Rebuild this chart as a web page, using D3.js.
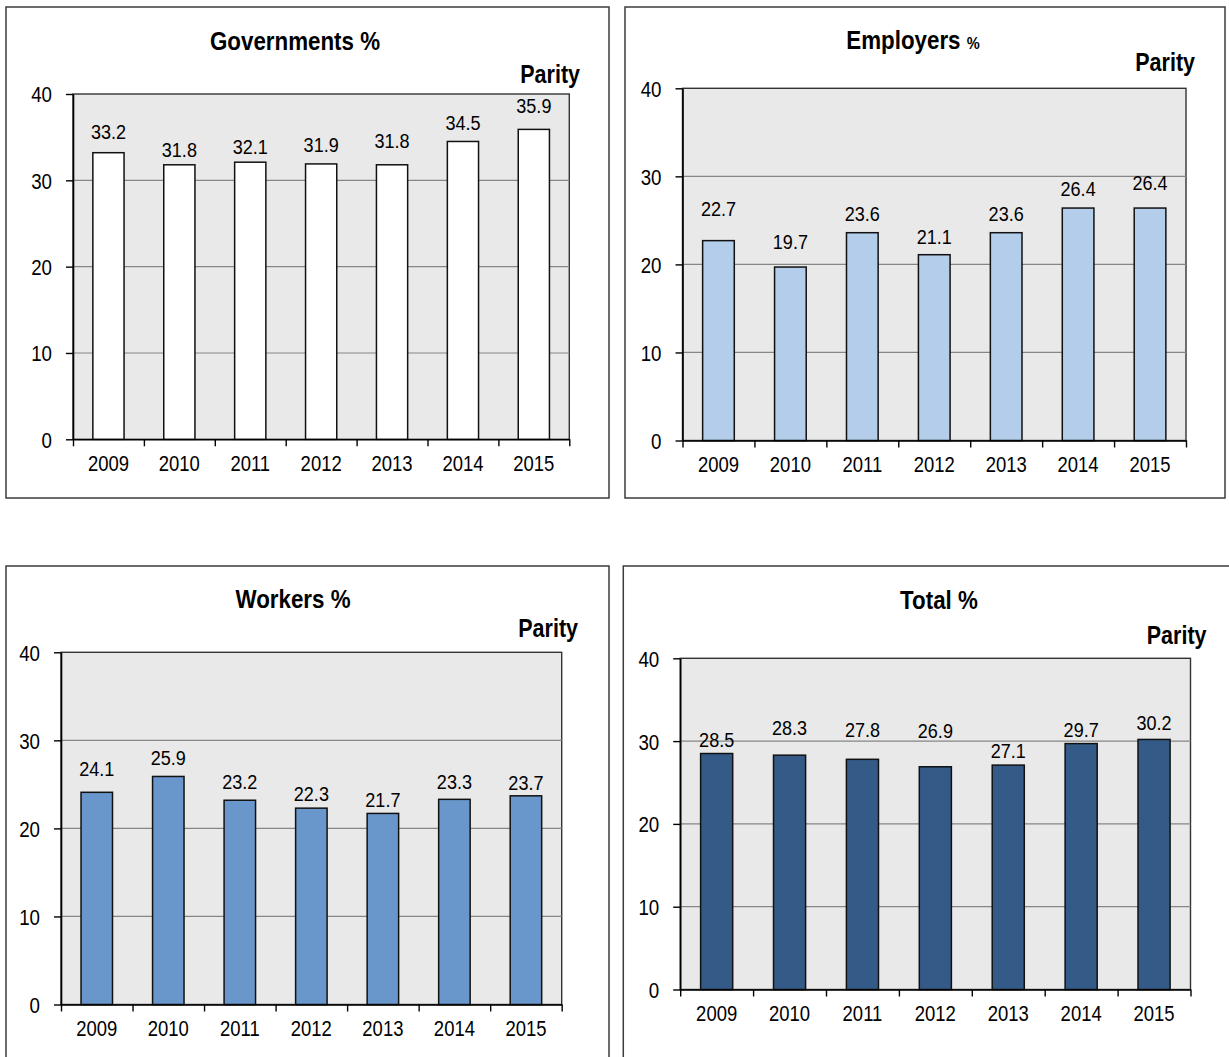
<!DOCTYPE html>
<html>
<head>
<meta charset="utf-8">
<script src="https://cdn.jsdelivr.net/npm/d3@7"></script>
<style>
  html, body { margin: 0; padding: 0; background: #ffffff; }
  svg { display: block; }
  text { font-family: "Liberation Sans", Arial, sans-serif; fill: #000; }
</style>
</head>
<body>
<svg id="chart" width="1229" height="1057"></svg>
<script>
// Share of women by constituency, 2009-2015 (%)
const years = ["2009", "2010", "2011", "2012", "2013", "2014", "2015"];
const governments = [33.2, 31.8, 32.1, 31.9, 31.8, 34.5, 35.9];
const employers   = [22.7, 19.7, 23.6, 21.1, 23.6, 26.4, 26.4];
const workers     = [24.1, 25.9, 23.2, 22.3, 21.7, 23.3, 23.7];
const total       = [28.5, 28.3, 27.8, 26.9, 27.1, 29.7, 30.2];
const yTicks = [0, 10, 20, 30, 40];
const titles = ["Governments", "Employers", "Workers", "Total"];
const parityLabel = "Parity";

// Panel layout and styling
const panels = [
  { title: titles[0], values: governments, fill: "#ffffff", pctSmall: false,
    box: [6, 7, 609, 498], plot: [73, 94, 569.3, 439.3],
    titleAt: [295, 50], parityAt: [580, 83],
    lift: [13.5, 7.6, 8.3, 12.3, 16.6, 11.6, 16] },
  { title: titles[1], values: employers, fill: "#b3cdeb", pctSmall: true,
    box: [625, 7, 1225, 498], plot: [682.5, 88.3, 1186, 440.5],
    titleAt: [913, 49], parityAt: [1195, 71],
    lift: [24.7, 17.7, 11.7, 10.7, 11.7, 12.3, 18] },
  { title: titles[2], values: workers, fill: "#6a97cb", pctSmall: false,
    box: [6, 566, 609, 1058], plot: [61, 652.3, 561.7, 1004.5],
    titleAt: [293, 608.3], parityAt: [578, 637],
    lift: [16.7, 11.7, 11, 7.4, 6.7, 10, 5.7] },
  { title: titles[3], values: total, fill: "#345a88", pctSmall: false,
    box: [623.3, 566, 1232, 1058], plot: [680.2, 658.3, 1190.5, 989.5],
    titleAt: [939, 609.3], parityAt: [1206.5, 644],
    lift: [6.5, 19.9, 22.3, 28.5, 7, 6.6, 9.1] }
];

// Lettering: size and horizontal squeeze per text role
const fonts = {
  value:  { size: 21, sx: 0.86 },
  year:   { size: 22, sx: 0.84 },
  ytick:  { size: 22, sx: 0.85 },
  title:  { size: 26, sx: 0.86 },
  parity: { size: 25, sx: 0.86 }
};
const svg = d3.select("#chart");

function label(g, x, y, str, role, weight, anchor) {
  const f = fonts[role];
  return g.append("text")
    .attr("transform", `translate(${x},${y}) scale(${f.sx},1)`)
    .attr("text-anchor", anchor)
    .style("font-size", f.size + "px")
    .style("font-weight", weight)
    .text(str);
}

panels.forEach(p => {
  const g = svg.append("g");
  const [bx0, by0, bx1, by1] = p.box;
  const [px0, py0, px1, py1] = p.plot;

  // outer frame
  g.append("rect")
    .attr("x", bx0).attr("y", by0)
    .attr("width", bx1 - bx0).attr("height", by1 - by0)
    .attr("fill", "#ffffff").attr("stroke", "#3c3c3c").attr("stroke-width", 1.5);

  const x = d3.scaleBand().domain(years).range([px0, px1]).padding(0);
  const y = d3.scaleLinear().domain([0, 40]).range([py1, py0]);
  const xEdges = d3.scaleLinear().domain([0, years.length]).range([px0, px1]);

  // plot area
  g.append("rect")
    .attr("x", px0).attr("y", py0)
    .attr("width", px1 - px0).attr("height", py1 - py0)
    .attr("fill", "#e9e9e9").attr("stroke", "#333").attr("stroke-width", 1.4);

  // gridlines
  g.append("g").selectAll("line")
    .data(yTicks.filter(t => t > 0 && t < 40))
    .join("line")
    .attr("x1", px0).attr("x2", px1)
    .attr("y1", d => y(d)).attr("y2", d => y(d))
    .attr("stroke", "#868686").attr("stroke-width", 1.2);

  // bars
  const bw = x.bandwidth() * 0.44;
  g.append("g").selectAll("rect")
    .data(p.values)
    .join("rect")
    .attr("x", (d, i) => x(years[i]) + (x.bandwidth() - bw) / 2)
    .attr("y", d => y(d))
    .attr("width", bw)
    .attr("height", d => y(0) - y(d))
    .attr("fill", p.fill)
    .attr("stroke", "#111").attr("stroke-width", 1.5);

  // value labels
  const vl = g.append("g");
  p.values.forEach((v, i) => {
    label(vl, x(years[i]) + x.bandwidth() / 2, y(v) - p.lift[i], v.toFixed(1), "value", "normal", "middle");
  });

  // y axis
  const yAxis = g.append("g")
    .attr("transform", `translate(${px0},0)`)
    .call(d3.axisLeft(y).tickValues(yTicks).tickSize(7).tickPadding(14).tickSizeOuter(0));
  yAxis.select(".domain").attr("stroke", "#000").attr("stroke-width", 1.6);
  yAxis.selectAll(".tick line").attr("stroke", "#000").attr("stroke-width", 1.4);
  yAxis.selectAll(".tick text")
    .attr("x", -21 / fonts.ytick.sx)
    .attr("dy", "0.36em")
    .attr("transform", `scale(${fonts.ytick.sx},1)`)
    .style("font-size", fonts.ytick.size + "px")
    .style("font-family", "'Liberation Sans', Arial, sans-serif")
    .attr("fill", "#000");

  // x axis: tick marks between categories
  const xAxis = g.append("g")
    .attr("transform", `translate(0,${py1})`)
    .call(d3.axisBottom(xEdges).tickValues(d3.range(years.length + 1)).tickSize(7).tickFormat("").tickSizeOuter(0));
  xAxis.select(".domain").attr("stroke", "#000").attr("stroke-width", 1.6);
  xAxis.selectAll(".tick line").attr("stroke", "#000").attr("stroke-width", 1.4);

  // x axis: category labels
  const xLab = g.append("g")
    .attr("transform", `translate(0,${py1})`)
    .call(d3.axisBottom(x).tickSize(0).tickSizeOuter(0));
  xLab.select(".domain").remove();
  xLab.selectAll(".tick text")
    .attr("y", 32)
    .attr("dy", null)
    .attr("transform", `scale(${fonts.year.sx},1)`)
    .style("font-size", fonts.year.size + "px")
    .style("font-family", "'Liberation Sans', Arial, sans-serif")
    .attr("fill", "#000");

  // title
  const t = label(g, p.titleAt[0], p.titleAt[1], "", "title", "bold", "middle");
  t.append("tspan").text(p.title + " ");
  t.append("tspan").style("font-size", p.pctSmall ? "17px" : fonts.title.size + "px").text("%");

  // parity note
  label(g, p.parityAt[0], p.parityAt[1], parityLabel, "parity", "bold", "end");
});
</script>
</body>
</html>
